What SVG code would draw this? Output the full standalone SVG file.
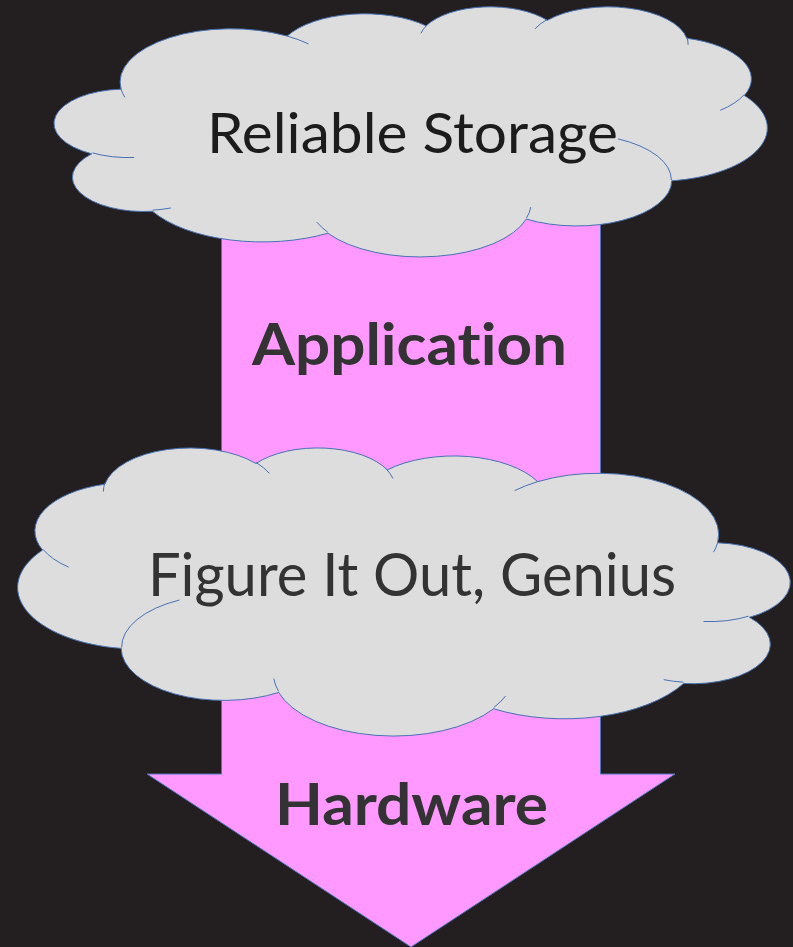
<svg xmlns="http://www.w3.org/2000/svg" xmlns:xlink="http://www.w3.org/1999/xlink" width="793" height="947" viewBox="0 0 793 947">
  <defs>
    <style>
      .bg { fill: #231f20; }
      .cloud { fill: #dddddd; stroke: #4672b4; stroke-width: 1; vector-effect: non-scaling-stroke; }
      .cloud-lines { fill: none; stroke: #4672b4; stroke-width: 1; vector-effect: non-scaling-stroke; }
      .arrow { fill: #ff99ff; stroke: #4a76b8; stroke-width: 1; }
      .label { font-family: Lato, "Open Sans", "Liberation Sans", sans-serif; font-variant-ligatures: none; font-feature-settings: "liga" 0, "clig" 0; }
      .cloud-text { font-size: 57px; font-weight: 400; }
      .arrow-text { font-size: 57px; font-weight: 700; fill: #333333; }
    </style>
    <!-- Cloud outline in a 43200 x 43200 unit box -->
    <path id="cloud-shape" class="cloud" d="M3900 14370 A6753 9190 0 0 1 14005 5202 A5333 7267 0 0 1 22456 3432 A4365 5945 0 0 1 29833 2480 A4857 6595 0 0 1 38318 5576 A5333 7273 0 0 1 41819 15459 A6775 9220 0 0 1 37405 30203 A5785 7867 0 0 1 28556 36813 A6752 9215 0 0 1 16481 39264 A7720 10543 0 0 1 5805 35470 A4360 5918 0 0 1 2114 25548 A4345 5945 0 0 1 3900 14370 Z"/>
    <!-- Short inner strokes where the puffs overlap -->
    <path id="cloud-creases" class="cloud-lines" d="M4693 26177 A4345 5945 0 0 1 2159 25380 M6928 34899 A4360 5918 0 0 1 5820 35280 M16478 39090 A6752 9215 0 0 1 15810 37350 M28827 34751 A6752 9215 0 0 1 28560 36660 M34129 22954 A5785 7867 0 0 1 37380 30090 M41798 15354 A5333 7273 0 0 1 40350 18030 M38324 5426 A4857 6595 0 0 1 38400 6690 M29078 3952 A4857 6595 0 0 1 29820 2341 M22141 4720 A4365 5945 0 0 1 22501 3332 M14000 5192 A6753 9190 0 0 1 15300 6540 M4127 15789 A6753 9190 0 0 1 3900 14370"/>
  </defs>

  <rect class="bg" x="0" y="0" width="793" height="947"/>

  <!-- Block arrow running down behind both clouds -->
  <g id="connectors">
    <polygon class="arrow" points="221.5,200 600.5,200 600.5,774 675,774 411,947 147,774 221.5,774"/>
    <text class="label arrow-text" x="252" y="365" textLength="315" lengthAdjust="spacingAndGlyphs">Application</text>
    <text class="label arrow-text" x="275" y="825" textLength="273" lengthAdjust="spacingAndGlyphs">Hardware</text>
  </g>

  <g id="reliable-storage">
    <g transform="translate(57,6) scale(0.0164352,0.0057870)">
      <use xlink:href="#cloud-shape"/>
      <use xlink:href="#cloud-creases"/>
    </g>
    <text class="label cloud-text" x="207" y="153" fill="#1c1c1c" textLength="411" lengthAdjust="spacingAndGlyphs">Reliable Storage</text>
  </g>

  <g id="figure-it-out">
    <g transform="translate(787,447) scale(-0.0178009,0.0066667)">
      <use xlink:href="#cloud-shape"/>
      <use xlink:href="#cloud-creases"/>
    </g>
    <text class="label cloud-text" x="148" y="596" fill="#333333" style="font-size:60px" textLength="528" lengthAdjust="spacingAndGlyphs">Figure It Out, Genius</text>
  </g>
</svg>
